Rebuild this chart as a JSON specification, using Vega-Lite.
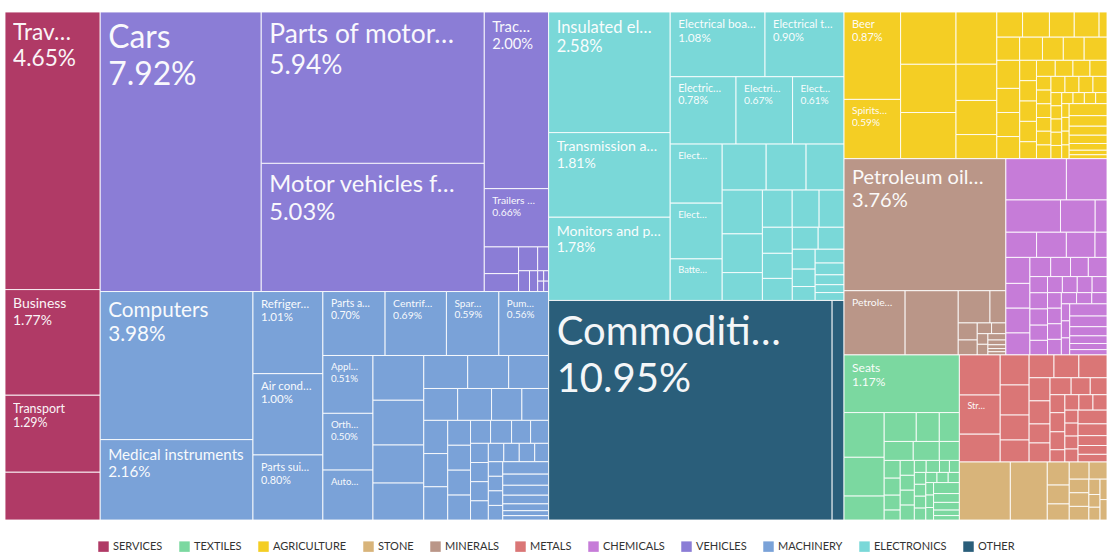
{
"$schema":"https://vega.github.io/schema/vega-lite/v6.json",
"width":1102,"height":508,
"autosize":{"type":"none"},
"padding":{"left":5,"top":12,"right":0,"bottom":33},
"background":"#ffffff",
"config":{"view":{"stroke":null},"legend":{"layout":{"bottom":{"anchor":"middle"}}}},
"data":{"values":[
{"k":"1.1","c":"SERVICES","v":4.65,"l":"Trav…","t":"4.65%"},
{"k":"1.2","c":"SERVICES","v":1.77,"l":"Business","t":"1.77%"},
{"k":"1.3","c":"SERVICES","v":1.29,"l":"Transport","t":"1.29%"},
{"k":"1.4","c":"SERVICES","v":0.8},
{"k":"2.1.1","c":"VEHICLES","v":7.92,"l":"Cars","t":"7.92%"},
{"k":"2.1.2.1","c":"VEHICLES","v":5.94,"l":"Parts of motor…","t":"5.94%"},
{"k":"2.1.2.2","c":"VEHICLES","v":5.03,"l":"Motor vehicles f…","t":"5.03%"},
{"k":"2.1.3.1","c":"VEHICLES","v":2.0,"l":"Trac…","t":"2.00%"},
{"k":"2.1.3.2","c":"VEHICLES","v":0.66,"l":"Trailers …","t":"0.66%"},
{"k":"2.1.3.3.1.1","c":"VEHICLES","v":0.161},
{"k":"2.1.3.3.1.2","c":"VEHICLES","v":0.108},
{"k":"2.1.3.3.2.1.1","c":"VEHICLES","v":0.08},
{"k":"2.1.3.3.2.1.2","c":"VEHICLES","v":0.046},
{"k":"2.1.3.3.2.2.1","c":"VEHICLES","v":0.04},
{"k":"2.1.3.3.2.2.2","c":"VEHICLES","v":0.03},
{"k":"2.1.3.3.2.2.3.1","c":"VEHICLES","v":0.011},
{"k":"2.1.3.3.2.2.3.2","c":"VEHICLES","v":0.011},
{"k":"2.1.3.3.2.2.4.1","c":"VEHICLES","v":0.009},
{"k":"2.1.3.3.2.2.4.2","c":"VEHICLES","v":0.009},
{"k":"2.2.1.1","c":"MACHINERY","v":3.98,"l":"Computers","t":"3.98%"},
{"k":"2.2.1.2","c":"MACHINERY","v":2.16,"l":"Medical instruments","t":"2.16%"},
{"k":"2.2.2.1","c":"MACHINERY","v":1.01,"l":"Refriger…","t":"1.01%"},
{"k":"2.2.2.2","c":"MACHINERY","v":1.0,"l":"Air cond…","t":"1.00%"},
{"k":"2.2.2.3","c":"MACHINERY","v":0.8,"l":"Parts sui…","t":"0.80%"},
{"k":"2.2.3.1.1","c":"MACHINERY","v":0.7,"l":"Parts a…","t":"0.70%"},
{"k":"2.2.3.1.2","c":"MACHINERY","v":0.69,"l":"Centrif…","t":"0.69%"},
{"k":"2.2.3.1.3","c":"MACHINERY","v":0.59,"l":"Spar…","t":"0.59%"},
{"k":"2.2.3.1.4","c":"MACHINERY","v":0.56,"l":"Pum…","t":"0.56%"},
{"k":"2.2.3.2.1.1","c":"MACHINERY","v":0.51,"l":"Appl…","t":"0.51%"},
{"k":"2.2.3.2.1.2","c":"MACHINERY","v":0.5,"l":"Orth…","t":"0.50%"},
{"k":"2.2.3.2.1.3","c":"MACHINERY","v":0.44,"l":"Auto…"},
{"k":"2.2.3.2.2.1","c":"MACHINERY","v":0.4},
{"k":"2.2.3.2.2.2","c":"MACHINERY","v":0.4},
{"k":"2.2.3.2.2.3","c":"MACHINERY","v":0.34},
{"k":"2.2.3.2.2.4","c":"MACHINERY","v":0.33},
{"k":"2.2.3.2.3.1.1","c":"MACHINERY","v":0.255},
{"k":"2.2.3.2.3.1.2","c":"MACHINERY","v":0.238},
{"k":"2.2.3.2.3.1.3","c":"MACHINERY","v":0.232},
{"k":"2.2.3.2.3.2.1","c":"MACHINERY","v":0.19},
{"k":"2.2.3.2.3.2.2","c":"MACHINERY","v":0.19},
{"k":"2.2.3.2.3.2.3","c":"MACHINERY","v":0.17},
{"k":"2.2.3.2.3.2.4","c":"MACHINERY","v":0.15},
{"k":"2.2.3.2.3.3.1.1","c":"MACHINERY","v":0.14},
{"k":"2.2.3.2.3.3.1.2","c":"MACHINERY","v":0.14},
{"k":"2.2.3.2.3.3.1.3","c":"MACHINERY","v":0.14},
{"k":"2.2.3.2.3.3.2.1","c":"MACHINERY","v":0.1},
{"k":"2.2.3.2.3.3.2.2","c":"MACHINERY","v":0.1},
{"k":"2.2.3.2.3.3.2.3","c":"MACHINERY","v":0.1},
{"k":"2.2.3.2.3.3.2.4","c":"MACHINERY","v":0.1},
{"k":"2.2.3.2.3.3.3.1.1","c":"MACHINERY","v":0.081},
{"k":"2.2.3.2.3.3.3.1.2","c":"MACHINERY","v":0.085},
{"k":"2.2.3.2.3.3.3.1.3","c":"MACHINERY","v":0.077},
{"k":"2.2.3.2.3.3.3.1.4","c":"MACHINERY","v":0.073},
{"k":"2.2.3.2.3.3.3.2.1.1","c":"MACHINERY","v":0.06},
{"k":"2.2.3.2.3.3.3.2.1.2","c":"MACHINERY","v":0.06},
{"k":"2.2.3.2.3.3.3.2.1.3","c":"MACHINERY","v":0.06},
{"k":"2.2.3.2.3.3.3.2.1.4","c":"MACHINERY","v":0.06},
{"k":"2.2.3.2.3.3.3.2.2.1.1","c":"MACHINERY","v":0.05},
{"k":"2.2.3.2.3.3.3.2.2.1.2","c":"MACHINERY","v":0.05},
{"k":"2.2.3.2.3.3.3.2.2.1.3","c":"MACHINERY","v":0.05},
{"k":"2.2.3.2.3.3.3.2.2.1.4","c":"MACHINERY","v":0.045},
{"k":"2.2.3.2.3.3.3.2.2.2.1.1","c":"MACHINERY","v":0.037},
{"k":"2.2.3.2.3.3.3.2.2.2.1.2","c":"MACHINERY","v":0.037},
{"k":"2.2.3.2.3.3.3.2.2.2.1.3","c":"MACHINERY","v":0.037},
{"k":"2.2.3.2.3.3.3.2.2.2.1.4","c":"MACHINERY","v":0.037},
{"k":"2.2.3.2.3.3.3.2.2.2.2.1","c":"MACHINERY","v":0.1},
{"k":"2.2.3.2.3.3.3.2.2.2.2.2","c":"MACHINERY","v":0.09},
{"k":"2.2.3.2.3.3.3.2.2.2.2.3","c":"MACHINERY","v":0.08},
{"k":"2.2.3.2.3.3.3.2.2.2.2.4","c":"MACHINERY","v":0.07},
{"k":"2.2.3.2.3.3.3.2.2.2.2.5","c":"MACHINERY","v":0.055},
{"k":"2.2.3.2.3.3.3.2.2.2.2.6","c":"MACHINERY","v":0.04},
{"k":"2.2.3.2.3.3.3.2.2.2.2.7","c":"MACHINERY","v":0.035},
{"k":"3.1.1.1","c":"ELECTRONICS","v":2.58,"l":"Insulated el…","t":"2.58%"},
{"k":"3.1.1.2","c":"ELECTRONICS","v":1.81,"l":"Transmission a…","t":"1.81%"},
{"k":"3.1.1.3","c":"ELECTRONICS","v":1.78,"l":"Monitors and p…","t":"1.78%"},
{"k":"3.1.2.1.1","c":"ELECTRONICS","v":1.08,"l":"Electrical boa…","t":"1.08%"},
{"k":"3.1.2.1.2","c":"ELECTRONICS","v":0.9,"l":"Electrical t…","t":"0.90%"},
{"k":"3.1.2.2.1","c":"ELECTRONICS","v":0.78,"l":"Electric…","t":"0.78%"},
{"k":"3.1.2.2.2","c":"ELECTRONICS","v":0.67,"l":"Electri…","t":"0.67%"},
{"k":"3.1.2.2.3","c":"ELECTRONICS","v":0.61,"l":"Elect…","t":"0.61%"},
{"k":"3.1.2.3.1.1","c":"ELECTRONICS","v":0.54,"l":"Elect…"},
{"k":"3.1.2.3.1.2","c":"ELECTRONICS","v":0.51,"l":"Elect…"},
{"k":"3.1.2.3.1.3","c":"ELECTRONICS","v":0.38,"l":"Batte…"},
{"k":"3.1.2.3.2.1.1","c":"ELECTRONICS","v":0.356},
{"k":"3.1.2.3.2.1.2","c":"ELECTRONICS","v":0.323},
{"k":"3.1.2.3.2.1.3","c":"ELECTRONICS","v":0.307},
{"k":"3.1.2.3.2.2.1.1","c":"ELECTRONICS","v":0.31},
{"k":"3.1.2.3.2.2.1.2","c":"ELECTRONICS","v":0.274},
{"k":"3.1.2.3.2.2.1.3","c":"ELECTRONICS","v":0.197},
{"k":"3.1.2.3.2.2.2.1.1","c":"ELECTRONICS","v":0.195},
{"k":"3.1.2.3.2.2.2.1.2","c":"ELECTRONICS","v":0.176},
{"k":"3.1.2.3.2.2.2.1.3","c":"ELECTRONICS","v":0.163},
{"k":"3.1.2.3.2.2.2.2.1.1","c":"ELECTRONICS","v":0.137},
{"k":"3.1.2.3.2.2.2.2.1.2","c":"ELECTRONICS","v":0.132},
{"k":"3.1.2.3.2.2.2.2.1.3","c":"ELECTRONICS","v":0.116},
{"k":"3.1.2.3.2.2.2.2.2.1.1","c":"ELECTRONICS","v":0.1},
{"k":"3.1.2.3.2.2.2.2.2.1.2","c":"ELECTRONICS","v":0.1},
{"k":"3.1.2.3.2.2.2.2.2.2.1.1","c":"ELECTRONICS","v":0.08},
{"k":"3.1.2.3.2.2.2.2.2.2.1.2","c":"ELECTRONICS","v":0.07},
{"k":"3.1.2.3.2.2.2.2.2.2.1.3","c":"ELECTRONICS","v":0.056},
{"k":"3.1.2.3.2.2.2.2.2.2.2.1","c":"ELECTRONICS","v":0.07},
{"k":"3.1.2.3.2.2.2.2.2.2.2.2","c":"ELECTRONICS","v":0.06},
{"k":"3.1.2.3.2.2.2.2.2.2.2.3","c":"ELECTRONICS","v":0.05},
{"k":"3.1.2.3.2.2.2.2.2.2.2.4","c":"ELECTRONICS","v":0.04},
{"k":"3.1.2.3.2.2.2.2.2.2.2.5","c":"ELECTRONICS","v":0.04},
{"k":"3.2.1","c":"OTHER","v":10.95,"l":"Commoditi…","t":"10.95%"},
{"k":"3.2.2","c":"OTHER","v":0.46},
{"k":"4.1.1.1","c":"AGRICULTURE","v":0.87,"l":"Beer","t":"0.87%"},
{"k":"4.1.1.2","c":"AGRICULTURE","v":0.59,"l":"Spirits…","t":"0.59%"},
{"k":"4.1.2.1","c":"AGRICULTURE","v":0.51},
{"k":"4.1.2.2","c":"AGRICULTURE","v":0.47},
{"k":"4.1.2.3","c":"AGRICULTURE","v":0.45},
{"k":"4.1.3.1","c":"AGRICULTURE","v":0.375},
{"k":"4.1.3.2","c":"AGRICULTURE","v":0.26},
{"k":"4.1.3.3","c":"AGRICULTURE","v":0.245},
{"k":"4.1.3.4","c":"AGRICULTURE","v":0.173},
{"k":"4.1.4.1.1","c":"AGRICULTURE","v":0.114},
{"k":"4.1.4.1.2","c":"AGRICULTURE","v":0.119},
{"k":"4.1.4.1.3","c":"AGRICULTURE","v":0.11},
{"k":"4.1.4.1.4","c":"AGRICULTURE","v":0.11},
{"k":"4.1.4.1.5","c":"AGRICULTURE","v":0.035},
{"k":"4.1.4.2.1","c":"AGRICULTURE","v":0.093},
{"k":"4.1.4.2.2","c":"AGRICULTURE","v":0.093},
{"k":"4.1.4.2.3","c":"AGRICULTURE","v":0.085},
{"k":"4.1.4.2.4","c":"AGRICULTURE","v":0.085},
{"k":"4.1.4.2.5","c":"AGRICULTURE","v":0.093},
{"k":"4.1.4.3.1.1","c":"AGRICULTURE","v":0.113},
{"k":"4.1.4.3.1.2","c":"AGRICULTURE","v":0.097},
{"k":"4.1.4.3.1.3","c":"AGRICULTURE","v":0.097},
{"k":"4.1.4.3.1.4","c":"AGRICULTURE","v":0.089},
{"k":"4.1.4.3.2.1","c":"AGRICULTURE","v":0.06},
{"k":"4.1.4.3.2.2","c":"AGRICULTURE","v":0.06},
{"k":"4.1.4.3.2.3","c":"AGRICULTURE","v":0.06},
{"k":"4.1.4.3.2.4","c":"AGRICULTURE","v":0.06},
{"k":"4.1.4.3.2.5","c":"AGRICULTURE","v":0.05},
{"k":"4.1.4.3.3.1.1","c":"AGRICULTURE","v":0.053},
{"k":"4.1.4.3.3.1.2","c":"AGRICULTURE","v":0.05},
{"k":"4.1.4.3.3.1.3","c":"AGRICULTURE","v":0.048},
{"k":"4.1.4.3.3.1.4","c":"AGRICULTURE","v":0.048},
{"k":"4.1.4.3.3.2.1.1","c":"AGRICULTURE","v":0.035},
{"k":"4.1.4.3.3.2.1.2","c":"AGRICULTURE","v":0.035},
{"k":"4.1.4.3.3.2.1.3","c":"AGRICULTURE","v":0.035},
{"k":"4.1.4.3.3.2.1.4","c":"AGRICULTURE","v":0.035},
{"k":"4.1.4.3.3.2.1.5","c":"AGRICULTURE","v":0.035},
{"k":"4.1.4.3.3.2.1.6","c":"AGRICULTURE","v":0.035},
{"k":"4.1.4.3.3.2.2.1.1","c":"AGRICULTURE","v":0.04},
{"k":"4.1.4.3.3.2.2.1.2","c":"AGRICULTURE","v":0.04},
{"k":"4.1.4.3.3.2.2.1.3","c":"AGRICULTURE","v":0.04},
{"k":"4.1.4.3.3.2.2.1.4","c":"AGRICULTURE","v":0.04},
{"k":"4.1.4.3.3.2.2.2.1.1","c":"AGRICULTURE","v":0.025},
{"k":"4.1.4.3.3.2.2.2.1.2","c":"AGRICULTURE","v":0.025},
{"k":"4.1.4.3.3.2.2.2.1.3","c":"AGRICULTURE","v":0.025},
{"k":"4.1.4.3.3.2.2.2.1.4","c":"AGRICULTURE","v":0.025},
{"k":"4.1.4.3.3.2.2.2.1.5","c":"AGRICULTURE","v":0.025},
{"k":"4.1.4.3.3.2.2.2.2.1.1","c":"AGRICULTURE","v":0.022},
{"k":"4.1.4.3.3.2.2.2.2.1.2","c":"AGRICULTURE","v":0.022},
{"k":"4.1.4.3.3.2.2.2.2.1.3","c":"AGRICULTURE","v":0.022},
{"k":"4.1.4.3.3.2.2.2.2.1.4","c":"AGRICULTURE","v":0.022},
{"k":"4.1.4.3.3.2.2.2.2.2.1.1","c":"AGRICULTURE","v":0.018},
{"k":"4.1.4.3.3.2.2.2.2.2.1.2","c":"AGRICULTURE","v":0.018},
{"k":"4.1.4.3.3.2.2.2.2.2.1.3","c":"AGRICULTURE","v":0.018},
{"k":"4.1.4.3.3.2.2.2.2.2.1.4","c":"AGRICULTURE","v":0.018},
{"k":"4.1.4.3.3.2.2.2.2.2.2.1","c":"AGRICULTURE","v":0.08},
{"k":"4.1.4.3.3.2.2.2.2.2.2.2","c":"AGRICULTURE","v":0.07},
{"k":"4.1.4.3.3.2.2.2.2.2.2.3","c":"AGRICULTURE","v":0.06},
{"k":"4.1.4.3.3.2.2.2.2.2.2.4","c":"AGRICULTURE","v":0.055},
{"k":"4.1.4.3.3.2.2.2.2.2.2.5","c":"AGRICULTURE","v":0.045},
{"k":"4.1.4.3.3.2.2.2.2.2.2.6","c":"AGRICULTURE","v":0.03},
{"k":"4.1.4.3.3.2.2.2.2.2.2.7","c":"AGRICULTURE","v":0.026},
{"k":"4.2.1.1","c":"MINERALS","v":3.76,"l":"Petroleum oil…","t":"3.76%"},
{"k":"4.2.1.2.1","c":"MINERALS","v":0.69,"l":"Petrole…"},
{"k":"4.2.1.2.2","c":"MINERALS","v":0.6},
{"k":"4.2.1.2.3.1.1","c":"MINERALS","v":0.18},
{"k":"4.2.1.2.3.1.2","c":"MINERALS","v":0.09},
{"k":"4.2.1.2.3.2.1.1","c":"MINERALS","v":0.057},
{"k":"4.2.1.2.3.2.1.2","c":"MINERALS","v":0.05},
{"k":"4.2.1.2.3.2.2.1.1","c":"MINERALS","v":0.027},
{"k":"4.2.1.2.3.2.2.1.2","c":"MINERALS","v":0.027},
{"k":"4.2.1.2.3.2.2.2.1.1","c":"MINERALS","v":0.02},
{"k":"4.2.1.2.3.2.2.2.1.2","c":"MINERALS","v":0.02},
{"k":"4.2.1.2.3.2.2.2.2.1","c":"MINERALS","v":0.02},
{"k":"4.2.1.2.3.2.2.2.2.2","c":"MINERALS","v":0.015},
{"k":"4.2.1.2.3.2.2.2.2.3","c":"MINERALS","v":0.012},
{"k":"4.2.1.2.3.2.2.2.2.4","c":"MINERALS","v":0.01},
{"k":"4.2.1.2.3.2.2.2.2.5","c":"MINERALS","v":0.01},
{"k":"4.2.2.1.1","c":"CHEMICALS","v":0.44},
{"k":"4.2.2.1.2","c":"CHEMICALS","v":0.295},
{"k":"4.2.2.2.1","c":"CHEMICALS","v":0.31},
{"k":"4.2.2.2.2","c":"CHEMICALS","v":0.197},
{"k":"4.2.2.2.3","c":"CHEMICALS","v":0.067},
{"k":"4.2.2.3.1","c":"CHEMICALS","v":0.136},
{"k":"4.2.2.3.2","c":"CHEMICALS","v":0.132},
{"k":"4.2.2.3.3","c":"CHEMICALS","v":0.127},
{"k":"4.2.2.3.4","c":"CHEMICALS","v":0.053},
{"k":"4.2.2.4.1.1","c":"CHEMICALS","v":0.11},
{"k":"4.2.2.4.1.2","c":"CHEMICALS","v":0.105},
{"k":"4.2.2.4.1.3","c":"CHEMICALS","v":0.105},
{"k":"4.2.2.4.1.4","c":"CHEMICALS","v":0.093},
{"k":"4.2.2.4.2.1.1","c":"CHEMICALS","v":0.07},
{"k":"4.2.2.4.2.1.2","c":"CHEMICALS","v":0.067},
{"k":"4.2.2.4.2.1.3","c":"CHEMICALS","v":0.06},
{"k":"4.2.2.4.2.1.4","c":"CHEMICALS","v":0.063},
{"k":"4.2.2.4.2.2.1.1","c":"CHEMICALS","v":0.05},
{"k":"4.2.2.4.2.2.1.2","c":"CHEMICALS","v":0.05},
{"k":"4.2.2.4.2.2.1.3","c":"CHEMICALS","v":0.05},
{"k":"4.2.2.4.2.2.1.4","c":"CHEMICALS","v":0.047},
{"k":"4.2.2.4.2.2.1.5","c":"CHEMICALS","v":0.045},
{"k":"4.2.2.4.2.2.2.1.1","c":"CHEMICALS","v":0.042},
{"k":"4.2.2.4.2.2.2.1.2","c":"CHEMICALS","v":0.042},
{"k":"4.2.2.4.2.2.2.1.3","c":"CHEMICALS","v":0.042},
{"k":"4.2.2.4.2.2.2.1.4","c":"CHEMICALS","v":0.042},
{"k":"4.2.2.4.2.2.2.2.1.1","c":"CHEMICALS","v":0.038},
{"k":"4.2.2.4.2.2.2.2.1.2","c":"CHEMICALS","v":0.038},
{"k":"4.2.2.4.2.2.2.2.1.3","c":"CHEMICALS","v":0.038},
{"k":"4.2.2.4.2.2.2.2.1.4","c":"CHEMICALS","v":0.038},
{"k":"4.2.2.4.2.2.2.2.2.1.1","c":"CHEMICALS","v":0.03},
{"k":"4.2.2.4.2.2.2.2.2.1.2","c":"CHEMICALS","v":0.03},
{"k":"4.2.2.4.2.2.2.2.2.1.3","c":"CHEMICALS","v":0.03},
{"k":"4.2.2.4.2.2.2.2.2.2.1.1","c":"CHEMICALS","v":0.025},
{"k":"4.2.2.4.2.2.2.2.2.2.1.2","c":"CHEMICALS","v":0.025},
{"k":"4.2.2.4.2.2.2.2.2.2.1.3","c":"CHEMICALS","v":0.025},
{"k":"4.2.2.4.2.2.2.2.2.2.2.1","c":"CHEMICALS","v":0.08},
{"k":"4.2.2.4.2.2.2.2.2.2.2.2","c":"CHEMICALS","v":0.07},
{"k":"4.2.2.4.2.2.2.2.2.2.2.3","c":"CHEMICALS","v":0.06},
{"k":"4.2.2.4.2.2.2.2.2.2.2.4","c":"CHEMICALS","v":0.05},
{"k":"4.2.2.4.2.2.2.2.2.2.2.5","c":"CHEMICALS","v":0.04},
{"k":"4.2.2.4.2.2.2.2.2.2.2.6","c":"CHEMICALS","v":0.035},
{"k":"4.3.1.1","c":"TEXTILES","v":1.17,"l":"Seats","t":"1.17%"},
{"k":"4.3.1.2.1.1","c":"TEXTILES","v":0.316},
{"k":"4.3.1.2.1.2","c":"TEXTILES","v":0.274},
{"k":"4.3.1.2.1.3","c":"TEXTILES","v":0.169},
{"k":"4.3.1.2.2.1.1","c":"TEXTILES","v":0.163},
{"k":"4.3.1.2.2.1.2","c":"TEXTILES","v":0.117},
{"k":"4.3.1.2.2.1.3","c":"TEXTILES","v":0.102},
{"k":"4.3.1.2.2.2.1","c":"TEXTILES","v":0.097},
{"k":"4.3.1.2.2.2.2","c":"TEXTILES","v":0.087},
{"k":"4.3.1.2.2.2.3","c":"TEXTILES","v":0.067},
{"k":"4.3.1.2.2.3.1.1","c":"TEXTILES","v":0.05},
{"k":"4.3.1.2.2.3.1.2","c":"TEXTILES","v":0.048},
{"k":"4.3.1.2.2.3.1.3","c":"TEXTILES","v":0.042},
{"k":"4.3.1.2.2.3.1.4","c":"TEXTILES","v":0.028},
{"k":"4.3.1.2.2.3.2.1","c":"TEXTILES","v":0.037},
{"k":"4.3.1.2.2.3.2.2","c":"TEXTILES","v":0.037},
{"k":"4.3.1.2.2.3.2.3","c":"TEXTILES","v":0.037},
{"k":"4.3.1.2.2.3.2.4","c":"TEXTILES","v":0.037},
{"k":"4.3.1.2.2.3.3.1.1","c":"TEXTILES","v":0.025},
{"k":"4.3.1.2.2.3.3.1.2","c":"TEXTILES","v":0.028},
{"k":"4.3.1.2.2.3.3.1.3","c":"TEXTILES","v":0.021},
{"k":"4.3.1.2.2.3.3.1.4","c":"TEXTILES","v":0.021},
{"k":"4.3.1.2.2.3.3.2.1.1","c":"TEXTILES","v":0.024},
{"k":"4.3.1.2.2.3.3.2.1.2","c":"TEXTILES","v":0.024},
{"k":"4.3.1.2.2.3.3.2.1.3","c":"TEXTILES","v":0.024},
{"k":"4.3.1.2.2.3.3.2.1.4","c":"TEXTILES","v":0.024},
{"k":"4.3.1.2.2.3.3.2.2.1.1","c":"TEXTILES","v":0.02},
{"k":"4.3.1.2.2.3.3.2.2.1.2","c":"TEXTILES","v":0.02},
{"k":"4.3.1.2.2.3.3.2.2.1.3","c":"TEXTILES","v":0.02},
{"k":"4.3.1.2.2.3.3.2.2.2.1.1","c":"TEXTILES","v":0.017},
{"k":"4.3.1.2.2.3.3.2.2.2.1.2","c":"TEXTILES","v":0.017},
{"k":"4.3.1.2.2.3.3.2.2.2.1.3","c":"TEXTILES","v":0.017},
{"k":"4.3.1.2.2.3.3.2.2.2.2.1","c":"TEXTILES","v":0.05},
{"k":"4.3.1.2.2.3.3.2.2.2.2.2","c":"TEXTILES","v":0.04},
{"k":"4.3.1.2.2.3.3.2.2.2.2.3","c":"TEXTILES","v":0.035},
{"k":"4.3.1.2.2.3.3.2.2.2.2.4","c":"TEXTILES","v":0.025},
{"k":"4.3.1.2.2.3.3.2.2.2.2.5","c":"TEXTILES","v":0.02},
{"k":"4.3.2.1.1.1","c":"METALS","v":0.288},
{"k":"4.3.2.1.1.2","c":"METALS","v":0.281,"l":"Str…"},
{"k":"4.3.2.1.1.3","c":"METALS","v":0.2},
{"k":"4.3.2.1.2.1","c":"METALS","v":0.153},
{"k":"4.3.2.1.2.2","c":"METALS","v":0.153},
{"k":"4.3.2.1.2.3","c":"METALS","v":0.127},
{"k":"4.3.2.1.2.4","c":"METALS","v":0.112},
{"k":"4.3.2.1.3.1.1","c":"METALS","v":0.1},
{"k":"4.3.2.1.3.1.2","c":"METALS","v":0.1},
{"k":"4.3.2.1.3.1.3","c":"METALS","v":0.113},
{"k":"4.3.2.1.3.2.1.1","c":"METALS","v":0.085},
{"k":"4.3.2.1.3.2.1.2","c":"METALS","v":0.085},
{"k":"4.3.2.1.3.2.1.3","c":"METALS","v":0.07},
{"k":"4.3.2.1.3.2.1.4","c":"METALS","v":0.07},
{"k":"4.3.2.1.3.2.2.1.1","c":"METALS","v":0.063},
{"k":"4.3.2.1.3.2.2.1.2","c":"METALS","v":0.057},
{"k":"4.3.2.1.3.2.2.1.3","c":"METALS","v":0.05},
{"k":"4.3.2.1.3.2.2.2.1.1","c":"METALS","v":0.047},
{"k":"4.3.2.1.3.2.2.2.1.2","c":"METALS","v":0.05},
{"k":"4.3.2.1.3.2.2.2.1.3","c":"METALS","v":0.047},
{"k":"4.3.2.1.3.2.2.2.1.4","c":"METALS","v":0.032},
{"k":"4.3.2.1.3.2.2.2.2.1.1","c":"METALS","v":0.038},
{"k":"4.3.2.1.3.2.2.2.2.1.2","c":"METALS","v":0.038},
{"k":"4.3.2.1.3.2.2.2.2.1.3","c":"METALS","v":0.038},
{"k":"4.3.2.1.3.2.2.2.2.2.1.1","c":"METALS","v":0.03},
{"k":"4.3.2.1.3.2.2.2.2.2.1.2","c":"METALS","v":0.03},
{"k":"4.3.2.1.3.2.2.2.2.2.1.3","c":"METALS","v":0.03},
{"k":"4.3.2.1.3.2.2.2.2.2.1.4","c":"METALS","v":0.03},
{"k":"4.3.2.1.3.2.2.2.2.2.2.1","c":"METALS","v":0.07},
{"k":"4.3.2.1.3.2.2.2.2.2.2.2","c":"METALS","v":0.06},
{"k":"4.3.2.1.3.2.2.2.2.2.2.3","c":"METALS","v":0.05},
{"k":"4.3.2.1.3.2.2.2.2.2.2.4","c":"METALS","v":0.045},
{"k":"4.3.2.1.3.2.2.2.2.2.2.5","c":"METALS","v":0.039},
{"k":"4.3.2.2.1","c":"STONE","v":0.52},
{"k":"4.3.2.2.2","c":"STONE","v":0.377},
{"k":"4.3.2.2.3.1","c":"STONE","v":0.089},
{"k":"4.3.2.2.3.2","c":"STONE","v":0.073},
{"k":"4.3.2.2.3.3","c":"STONE","v":0.062},
{"k":"4.3.2.2.4.1.1","c":"STONE","v":0.06},
{"k":"4.3.2.2.4.1.2","c":"STONE","v":0.054},
{"k":"4.3.2.2.4.2.1.1","c":"STONE","v":0.047},
{"k":"4.3.2.2.4.2.1.2","c":"STONE","v":0.047},
{"k":"4.3.2.2.4.2.1.3","c":"STONE","v":0.047},
{"k":"4.3.2.2.4.2.2.1","c":"STONE","v":0.03},
{"k":"4.3.2.2.4.2.2.2","c":"STONE","v":0.025},
{"k":"4.3.2.2.4.2.2.3","c":"STONE","v":0.025},
{"k":"4.3.2.2.4.2.3.1","c":"STONE","v":0.025},
{"k":"4.3.2.2.4.2.3.2","c":"STONE","v":0.025}
]},
"transform":[
{"calculate":"toNumber(split(datum.k,'.')[0])","as":"k1"},
{"calculate":"length(split(datum.k,'.'))>=2 ? toNumber(split(datum.k,'.')[1]) : 0","as":"k2"},
{"calculate":"length(split(datum.k,'.'))>=3 ? toNumber(split(datum.k,'.')[2]) : 0","as":"k3"},
{"calculate":"length(split(datum.k,'.'))>=4 ? toNumber(split(datum.k,'.')[3]) : 0","as":"k4"},
{"calculate":"length(split(datum.k,'.'))>=5 ? toNumber(split(datum.k,'.')[4]) : 0","as":"k5"},
{"calculate":"length(split(datum.k,'.'))>=6 ? toNumber(split(datum.k,'.')[5]) : 0","as":"k6"},
{"calculate":"length(split(datum.k,'.'))>=7 ? toNumber(split(datum.k,'.')[6]) : 0","as":"k7"},
{"calculate":"length(split(datum.k,'.'))>=8 ? toNumber(split(datum.k,'.')[7]) : 0","as":"k8"},
{"calculate":"length(split(datum.k,'.'))>=9 ? toNumber(split(datum.k,'.')[8]) : 0","as":"k9"},
{"calculate":"length(split(datum.k,'.'))>=10 ? toNumber(split(datum.k,'.')[9]) : 0","as":"k10"},
{"calculate":"length(split(datum.k,'.'))>=11 ? toNumber(split(datum.k,'.')[10]) : 0","as":"k11"},
{"calculate":"length(split(datum.k,'.'))>=12 ? toNumber(split(datum.k,'.')[11]) : 0","as":"k12"},
{"calculate":"0","as":"X0a"},{"calculate":"1","as":"X0b"},{"calculate":"0","as":"Y0a"},{"calculate":"1","as":"Y0b"},

{"stack":"v","groupby":[],"sort":[{"field":"k1"},{"field":"k2"},{"field":"k3"},{"field":"k4"},{"field":"k5"},{"field":"k6"},{"field":"k7"},{"field":"k8"},{"field":"k9"},{"field":"k10"},{"field":"k11"},{"field":"k12"}],"as":["s1a","s1b"]},
{"joinaggregate":[{"op":"min","field":"s1a","as":"lo1"},{"op":"max","field":"s1b","as":"hi1"}],"groupby":["k1"]},
{"joinaggregate":[{"op":"max","field":"s1b","as":"t1"}]},
{"calculate":"datum.X0a+(datum.X0b-datum.X0a)*datum.lo1/datum.t1","as":"X1a"},
{"calculate":"datum.X0a+(datum.X0b-datum.X0a)*datum.hi1/datum.t1","as":"X1b"},

{"stack":"v","groupby":["k1"],"sort":[{"field":"k2"},{"field":"k3"},{"field":"k4"},{"field":"k5"},{"field":"k6"},{"field":"k7"},{"field":"k8"},{"field":"k9"},{"field":"k10"},{"field":"k11"},{"field":"k12"}],"as":["s2a","s2b"]},
{"joinaggregate":[{"op":"min","field":"s2a","as":"lo2"},{"op":"max","field":"s2b","as":"hi2"}],"groupby":["k1","k2"]},
{"joinaggregate":[{"op":"max","field":"s2b","as":"t2"}],"groupby":["k1"]},
{"calculate":"datum.Y0a+(datum.Y0b-datum.Y0a)*datum.lo2/datum.t2","as":"Y2a"},
{"calculate":"datum.Y0a+(datum.Y0b-datum.Y0a)*datum.hi2/datum.t2","as":"Y2b"},

{"stack":"v","groupby":["k1","k2"],"sort":[{"field":"k3"},{"field":"k4"},{"field":"k5"},{"field":"k6"},{"field":"k7"},{"field":"k8"},{"field":"k9"},{"field":"k10"},{"field":"k11"},{"field":"k12"}],"as":["s3a","s3b"]},
{"joinaggregate":[{"op":"min","field":"s3a","as":"lo3"},{"op":"max","field":"s3b","as":"hi3"}],"groupby":["k1","k2","k3"]},
{"joinaggregate":[{"op":"max","field":"s3b","as":"t3"}],"groupby":["k1","k2"]},
{"calculate":"datum.X1a+(datum.X1b-datum.X1a)*datum.lo3/datum.t3","as":"X3a"},
{"calculate":"datum.X1a+(datum.X1b-datum.X1a)*datum.hi3/datum.t3","as":"X3b"},

{"stack":"v","groupby":["k1","k2","k3"],"sort":[{"field":"k4"},{"field":"k5"},{"field":"k6"},{"field":"k7"},{"field":"k8"},{"field":"k9"},{"field":"k10"},{"field":"k11"},{"field":"k12"}],"as":["s4a","s4b"]},
{"joinaggregate":[{"op":"min","field":"s4a","as":"lo4"},{"op":"max","field":"s4b","as":"hi4"}],"groupby":["k1","k2","k3","k4"]},
{"joinaggregate":[{"op":"max","field":"s4b","as":"t4"}],"groupby":["k1","k2","k3"]},
{"calculate":"datum.Y2a+(datum.Y2b-datum.Y2a)*datum.lo4/datum.t4","as":"Y4a"},
{"calculate":"datum.Y2a+(datum.Y2b-datum.Y2a)*datum.hi4/datum.t4","as":"Y4b"},

{"stack":"v","groupby":["k1","k2","k3","k4"],"sort":[{"field":"k5"},{"field":"k6"},{"field":"k7"},{"field":"k8"},{"field":"k9"},{"field":"k10"},{"field":"k11"},{"field":"k12"}],"as":["s5a","s5b"]},
{"joinaggregate":[{"op":"min","field":"s5a","as":"lo5"},{"op":"max","field":"s5b","as":"hi5"}],"groupby":["k1","k2","k3","k4","k5"]},
{"joinaggregate":[{"op":"max","field":"s5b","as":"t5"}],"groupby":["k1","k2","k3","k4"]},
{"calculate":"datum.X3a+(datum.X3b-datum.X3a)*datum.lo5/datum.t5","as":"X5a"},
{"calculate":"datum.X3a+(datum.X3b-datum.X3a)*datum.hi5/datum.t5","as":"X5b"},

{"stack":"v","groupby":["k1","k2","k3","k4","k5"],"sort":[{"field":"k6"},{"field":"k7"},{"field":"k8"},{"field":"k9"},{"field":"k10"},{"field":"k11"},{"field":"k12"}],"as":["s6a","s6b"]},
{"joinaggregate":[{"op":"min","field":"s6a","as":"lo6"},{"op":"max","field":"s6b","as":"hi6"}],"groupby":["k1","k2","k3","k4","k5","k6"]},
{"joinaggregate":[{"op":"max","field":"s6b","as":"t6"}],"groupby":["k1","k2","k3","k4","k5"]},
{"calculate":"datum.Y4a+(datum.Y4b-datum.Y4a)*datum.lo6/datum.t6","as":"Y6a"},
{"calculate":"datum.Y4a+(datum.Y4b-datum.Y4a)*datum.hi6/datum.t6","as":"Y6b"},

{"stack":"v","groupby":["k1","k2","k3","k4","k5","k6"],"sort":[{"field":"k7"},{"field":"k8"},{"field":"k9"},{"field":"k10"},{"field":"k11"},{"field":"k12"}],"as":["s7a","s7b"]},
{"joinaggregate":[{"op":"min","field":"s7a","as":"lo7"},{"op":"max","field":"s7b","as":"hi7"}],"groupby":["k1","k2","k3","k4","k5","k6","k7"]},
{"joinaggregate":[{"op":"max","field":"s7b","as":"t7"}],"groupby":["k1","k2","k3","k4","k5","k6"]},
{"calculate":"datum.X5a+(datum.X5b-datum.X5a)*datum.lo7/datum.t7","as":"X7a"},
{"calculate":"datum.X5a+(datum.X5b-datum.X5a)*datum.hi7/datum.t7","as":"X7b"},

{"stack":"v","groupby":["k1","k2","k3","k4","k5","k6","k7"],"sort":[{"field":"k8"},{"field":"k9"},{"field":"k10"},{"field":"k11"},{"field":"k12"}],"as":["s8a","s8b"]},
{"joinaggregate":[{"op":"min","field":"s8a","as":"lo8"},{"op":"max","field":"s8b","as":"hi8"}],"groupby":["k1","k2","k3","k4","k5","k6","k7","k8"]},
{"joinaggregate":[{"op":"max","field":"s8b","as":"t8"}],"groupby":["k1","k2","k3","k4","k5","k6","k7"]},
{"calculate":"datum.Y6a+(datum.Y6b-datum.Y6a)*datum.lo8/datum.t8","as":"Y8a"},
{"calculate":"datum.Y6a+(datum.Y6b-datum.Y6a)*datum.hi8/datum.t8","as":"Y8b"},

{"stack":"v","groupby":["k1","k2","k3","k4","k5","k6","k7","k8"],"sort":[{"field":"k9"},{"field":"k10"},{"field":"k11"},{"field":"k12"}],"as":["s9a","s9b"]},
{"joinaggregate":[{"op":"min","field":"s9a","as":"lo9"},{"op":"max","field":"s9b","as":"hi9"}],"groupby":["k1","k2","k3","k4","k5","k6","k7","k8","k9"]},
{"joinaggregate":[{"op":"max","field":"s9b","as":"t9"}],"groupby":["k1","k2","k3","k4","k5","k6","k7","k8"]},
{"calculate":"datum.X7a+(datum.X7b-datum.X7a)*datum.lo9/datum.t9","as":"X9a"},
{"calculate":"datum.X7a+(datum.X7b-datum.X7a)*datum.hi9/datum.t9","as":"X9b"},

{"stack":"v","groupby":["k1","k2","k3","k4","k5","k6","k7","k8","k9"],"sort":[{"field":"k10"},{"field":"k11"},{"field":"k12"}],"as":["s10a","s10b"]},
{"joinaggregate":[{"op":"min","field":"s10a","as":"lo10"},{"op":"max","field":"s10b","as":"hi10"}],"groupby":["k1","k2","k3","k4","k5","k6","k7","k8","k9","k10"]},
{"joinaggregate":[{"op":"max","field":"s10b","as":"t10"}],"groupby":["k1","k2","k3","k4","k5","k6","k7","k8","k9"]},
{"calculate":"datum.Y8a+(datum.Y8b-datum.Y8a)*datum.lo10/datum.t10","as":"Y10a"},
{"calculate":"datum.Y8a+(datum.Y8b-datum.Y8a)*datum.hi10/datum.t10","as":"Y10b"},

{"stack":"v","groupby":["k1","k2","k3","k4","k5","k6","k7","k8","k9","k10"],"sort":[{"field":"k11"},{"field":"k12"}],"as":["s11a","s11b"]},
{"joinaggregate":[{"op":"min","field":"s11a","as":"lo11"},{"op":"max","field":"s11b","as":"hi11"}],"groupby":["k1","k2","k3","k4","k5","k6","k7","k8","k9","k10","k11"]},
{"joinaggregate":[{"op":"max","field":"s11b","as":"t11"}],"groupby":["k1","k2","k3","k4","k5","k6","k7","k8","k9","k10"]},
{"calculate":"datum.X9a+(datum.X9b-datum.X9a)*datum.lo11/datum.t11","as":"X11a"},
{"calculate":"datum.X9a+(datum.X9b-datum.X9a)*datum.hi11/datum.t11","as":"X11b"},

{"stack":"v","groupby":["k1","k2","k3","k4","k5","k6","k7","k8","k9","k10","k11"],"sort":[{"field":"k12"}],"as":["s12a","s12b"]},
{"joinaggregate":[{"op":"min","field":"s12a","as":"lo12"},{"op":"max","field":"s12b","as":"hi12"}],"groupby":["k1","k2","k3","k4","k5","k6","k7","k8","k9","k10","k11","k12"]},
{"joinaggregate":[{"op":"max","field":"s12b","as":"t12"}],"groupby":["k1","k2","k3","k4","k5","k6","k7","k8","k9","k10","k11"]},
{"calculate":"datum.Y10a+(datum.Y10b-datum.Y10a)*datum.lo12/datum.t12","as":"Y12a"},
{"calculate":"datum.Y10a+(datum.Y10b-datum.Y10a)*datum.hi12/datum.t12","as":"Y12b"}
],
"encoding":{
"x":{"field":"X11a","type":"quantitative","scale":{"domain":[0,1],"nice":false,"zero":false},"axis":null},
"y":{"field":"Y12a","type":"quantitative","scale":{"domain":[0,1],"nice":false,"zero":false,"reverse":true},"axis":null}
},
"layer":[
{"mark":{"type":"rect","stroke":"#ffffff","strokeWidth":1,"strokeOpacity":0.85},
"encoding":{
"x2":{"field":"X11b"},
"y2":{"field":"Y12b"},
"color":{"field":"c","type":"nominal",
"scale":{"domain":["SERVICES","TEXTILES","AGRICULTURE","STONE","MINERALS","METALS","CHEMICALS","VEHICLES","MACHINERY","ELECTRONICS","OTHER"],
"range":["#b03a66","#7bd8a0","#f4ce24","#d8b47a","#ba9688","#da7676","#c67cd8","#8b7dd6","#7aa2d8","#7ad8d8","#2a5e7a"]},
"legend":{"orient":"bottom","direction":"horizontal","title":null,"symbolType":"square","symbolSize":110,"symbolStrokeWidth":0,"symbolOpacity":1,"labelFont":"Lato","labelFontSize":11,"labelColor":"#333333","columnPadding":16,"labelOffset":4,"offset":21}}
}},
{"transform":[{"filter":"datum.l"},{"calculate":"datum.t ? [datum.l, datum.t] : datum.l","as":"lab"}],
"mark":{"type":"text","align":"left","baseline":"top","dx":8,
"dy":{"expr":"5 + 0.2 * scale('size', datum.v)"},
"lineHeight":{"expr":"1.16 * scale('size', datum.v)"},
"font":"Lato","color":"#ffffff","opacity":0.95},
"encoding":{
"text":{"field":"lab","type":"nominal"},
"size":{"field":"v","type":"quantitative","scale":{"type":"pow","exponent":0.9,"domain":[0.3,10.95],"range":[9,40],"clamp":true,"zero":false},"legend":null}
}}
]
}
